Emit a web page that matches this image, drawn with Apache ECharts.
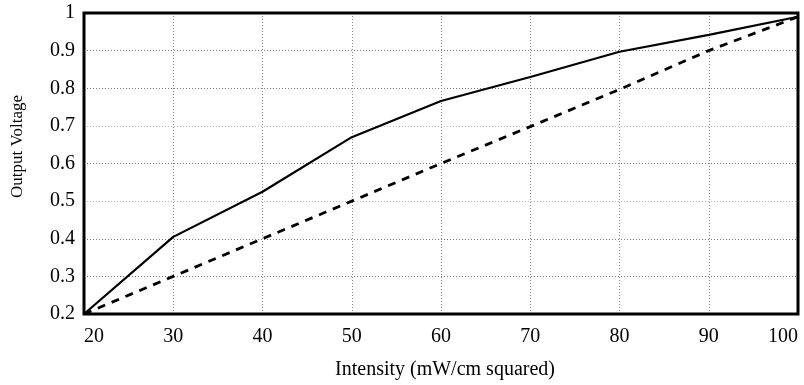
<!DOCTYPE html>
<html>
<head>
<meta charset="utf-8">
<script src="https://cdn.jsdelivr.net/npm/echarts@6/dist/echarts.min.js"></script>
<style>
  html, body { margin: 0; padding: 0; background: #fff; }
  #chart { width: 804px; height: 385px; }
</style>
</head>
<body>
<div id="chart"></div>
<script>
// Intensity values (mW/cm squared)
const intensity = [20, 30, 40, 50, 60, 70, 80, 90, 100]
// Solid curve
const solidVoltage = [0.2, 0.405, 0.525, 0.67, 0.766, 0.83, 0.897, 0.942, 0.99]
// Dashed curve
const dashedVoltage = [0.2, 0.3, 0.4, 0.5, 0.6, 0.698, 0.797, 0.9, 0.99]

const serif = '"Liberation Serif", "DejaVu Serif", serif'

// dense dotted vs sparse dotted horizontal grid lines (0.2 ... 1.0)
const hLineColors = ['#777', '#777', '#bbb', '#777', '#bbb', '#777', '#777', '#bbb', '#777']

const pairs = (xs, ys) => xs.map((x, i) => [x, ys[i]])

const chart = echarts.init(document.getElementById('chart'))

chart.setOption({
  backgroundColor: '#fff',
  animation: false,
  grid: {
    left: 84, right: 6, top: 13, bottom: 68,
    show: true,
    borderColor: '#000',
    borderWidth: 3,
    z: 5
  },
  xAxis: {
    type: 'value',
    min: 20, max: 100, interval: 10,
    name: 'Intensity (mW/cm squared)',
    nameLocation: 'middle',
    nameGap: 46,
    nameTextStyle: { fontFamily: serif, fontSize: 20, color: '#000', padding: [0, 0, 0, 8] },
    axisLine: { show: false },
    axisTick: { show: false },
    axisLabel: {
      fontFamily: serif, fontSize: 20, color: '#000', margin: 13,
      alignMinLabel: 'left', alignMaxLabel: 'right'
    },
    splitLine: {
      show: true, showMinLine: false, showMaxLine: false,
      lineStyle: { color: '#888', type: [1, 2], width: 1 }
    }
  },
  yAxis: {
    type: 'value',
    min: 0.2, max: 1, interval: 0.1,
    name: 'Output Voltage',
    nameLocation: 'middle',
    nameGap: 58,
    nameRotate: 90,
    nameTextStyle: { fontFamily: serif, fontSize: 17, color: '#000', padding: [0, 0, 0, 34] },
    axisLine: { show: false },
    axisTick: { show: false },
    axisLabel: {
      fontFamily: serif, fontSize: 20, color: '#000', margin: 9,
      formatter: v => String(Math.round(v * 10) / 10)
    },
    splitLine: {
      show: true, showMinLine: false, showMaxLine: false,
      lineStyle: { color: hLineColors, type: [1, 2], width: 1 }
    }
  },
  series: [
    {
      name: 'Solid',
      type: 'line',
      data: pairs(intensity, solidVoltage),
      showSymbol: false,
      lineStyle: { color: '#000', width: 2.2 },
      z: 3
    },
    {
      name: 'Dashed',
      type: 'line',
      data: pairs(intensity, dashedVoltage),
      showSymbol: false,
      lineStyle: { color: '#000', width: 2.8, type: [8, 7] },
      z: 3
    }
  ]
})
</script>
</body>
</html>
